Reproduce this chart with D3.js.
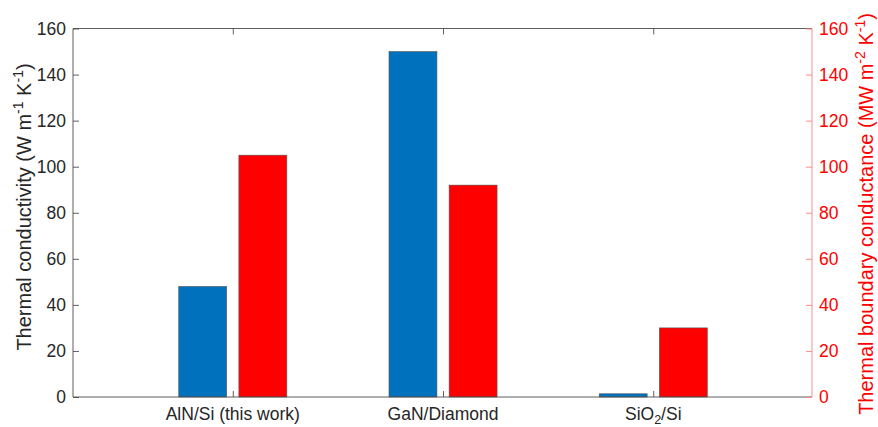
<!DOCTYPE html>
<html>
<head>
<meta charset="utf-8">
<script src="https://cdn.jsdelivr.net/npm/d3@7"></script>
<style>
  html, body { margin: 0; padding: 0; background: #fff; }
  svg { display: block; font-family: "Liberation Sans", Arial, sans-serif; }
</style>
</head>
<body>
<svg id="chart" width="878" height="427"></svg>
<script>
// Samples compared
const categories = ["AlN/Si (this work)", "GaN/Diamond", "SiO2/Si"];
// Thermal conductivity, W m^-1 K^-1 (left axis)
const conductivity = [48, 150, 1.4];
// Thermal boundary conductance, MW m^-2 K^-1 (right axis)
const boundaryConductance = [105, 92, 30];
const yTicks = [0, 20, 40, 60, 80, 100, 120, 140, 160];

const svg = d3.select("#chart");
const plotLeft = 73, plotRight = 812, plotTop = 28.5, plotBottom = 397;
const tickFont = 17.5, titleFont = 20, supFont = 14;

const x = d3.scaleLinear().domain([0.24, 3.755]).range([plotLeft, plotRight]);
const yL = d3.scaleLinear().domain([0, 160]).range([plotBottom, plotTop]);
const yR = d3.scaleLinear().domain([0, 160]).range([plotBottom, plotTop]);

const barW = x(1.228) - x(1);     // bar width
const offset = x(1.143) - x(1);   // bar offset from category centre

const axisGray = "#4d4d4d";
const blue = "#0072BD";
const red = "#FF0000";

// Bars: conductivity (left axis)
svg.append("g").selectAll("rect")
  .data(conductivity)
  .join("rect")
  .attr("x", (d, i) => x(i + 1) - offset - barW / 2)
  .attr("y", d => yL(d))
  .attr("width", barW)
  .attr("height", d => yL(0) - yL(d))
  .attr("fill", blue)
  .attr("stroke", "#555")
  .attr("stroke-width", 0.6);

// Bars: boundary conductance (right axis)
svg.append("g").selectAll("rect")
  .data(boundaryConductance)
  .join("rect")
  .attr("x", (d, i) => x(i + 1) + offset - barW / 2)
  .attr("y", d => yR(d))
  .attr("width", barW)
  .attr("height", d => yR(0) - yR(d))
  .attr("fill", red)
  .attr("stroke", "#555")
  .attr("stroke-width", 0.6);

// Top border with inward ticks
const topAxis = svg.append("g")
  .attr("transform", `translate(0,${plotTop})`)
  .call(d3.axisTop(x).tickValues([1, 2, 3]).tickSize(-6).tickFormat(""));
topAxis.select(".domain").attr("d", `M${plotLeft},0H${plotRight}`);

// Bottom axis with category labels
const bottomAxis = svg.append("g")
  .attr("transform", `translate(0,${plotBottom})`)
  .call(d3.axisBottom(x).tickValues([1, 2, 3]).tickSize(-6).tickFormat(""));
bottomAxis.select(".domain").attr("d", `M${plotLeft},0H${plotRight}`);

[topAxis, bottomAxis].forEach(g => {
  g.selectAll("path, line").attr("stroke", axisGray).attr("stroke-width", 0.9);
});

const catLabels = svg.append("g");
categories.forEach((c, i) => {
  const t = catLabels.append("text")
    .attr("x", x(i + 1))
    .attr("y", plotBottom + 23)
    .attr("text-anchor", "middle")
    .attr("font-size", tickFont)
    .attr("fill", "#262626");
  if (c === "SiO2/Si") {
    t.append("tspan").text("SiO");
    t.append("tspan").attr("font-size", 12.5).attr("dy", 4).text("2");
    t.append("tspan").attr("dy", -4).text("/Si");
  } else {
    t.text(c);
  }
});

// Left axis
const leftAxis = svg.append("g")
  .attr("transform", `translate(${plotLeft},0)`)
  .call(d3.axisLeft(yL).tickValues(yTicks).tickSize(-6).tickPadding(7));
leftAxis.select(".domain").attr("d", `M0,${plotBottom}V${plotTop}`);
leftAxis.selectAll("path, line").attr("stroke", axisGray).attr("stroke-width", 0.9);
leftAxis.selectAll("text")
  .attr("font-size", tickFont)
  .attr("font-family", "Liberation Sans, Arial, sans-serif")
  .attr("fill", "#262626");

// Right axis
const rightAxis = svg.append("g")
  .attr("transform", `translate(${plotRight},0)`)
  .call(d3.axisRight(yR).tickValues(yTicks).tickSize(-6).tickPadding(7));
rightAxis.select(".domain").attr("d", `M0,${plotBottom}V${plotTop}`);
rightAxis.selectAll("path, line").attr("stroke", "#ff8080").attr("stroke-width", 0.9);
rightAxis.selectAll("text")
  .attr("font-size", tickFont)
  .attr("font-family", "Liberation Sans, Arial, sans-serif")
  .attr("fill", red);

// Axis titles with superscript exponents
function unitTitle(sel, main, e1, e2) {
  sel.append("tspan").text(main);
  sel.append("tspan").attr("font-size", supFont).attr("dy", -8).text(e1);
  sel.append("tspan").attr("dy", 8).text(" K");
  sel.append("tspan").attr("font-size", supFont).attr("dy", -8).text(e2);
  sel.append("tspan").attr("dy", 8).text(")");
}

const lt = svg.append("text")
  .attr("transform", `translate(31,207) rotate(-90)`)
  .attr("text-anchor", "middle")
  .attr("font-size", titleFont)
  .attr("fill", "#262626");
unitTitle(lt, "Thermal conductivity (W m", "-1", "-1");

const rt = svg.append("text")
  .attr("transform", `translate(872.5,214) rotate(-90)`)
  .attr("text-anchor", "middle")
  .attr("font-size", titleFont)
  .attr("fill", red);
unitTitle(rt, "Thermal boundary conductance (MW m", "-2", "-1");
</script>
</body>
</html>
